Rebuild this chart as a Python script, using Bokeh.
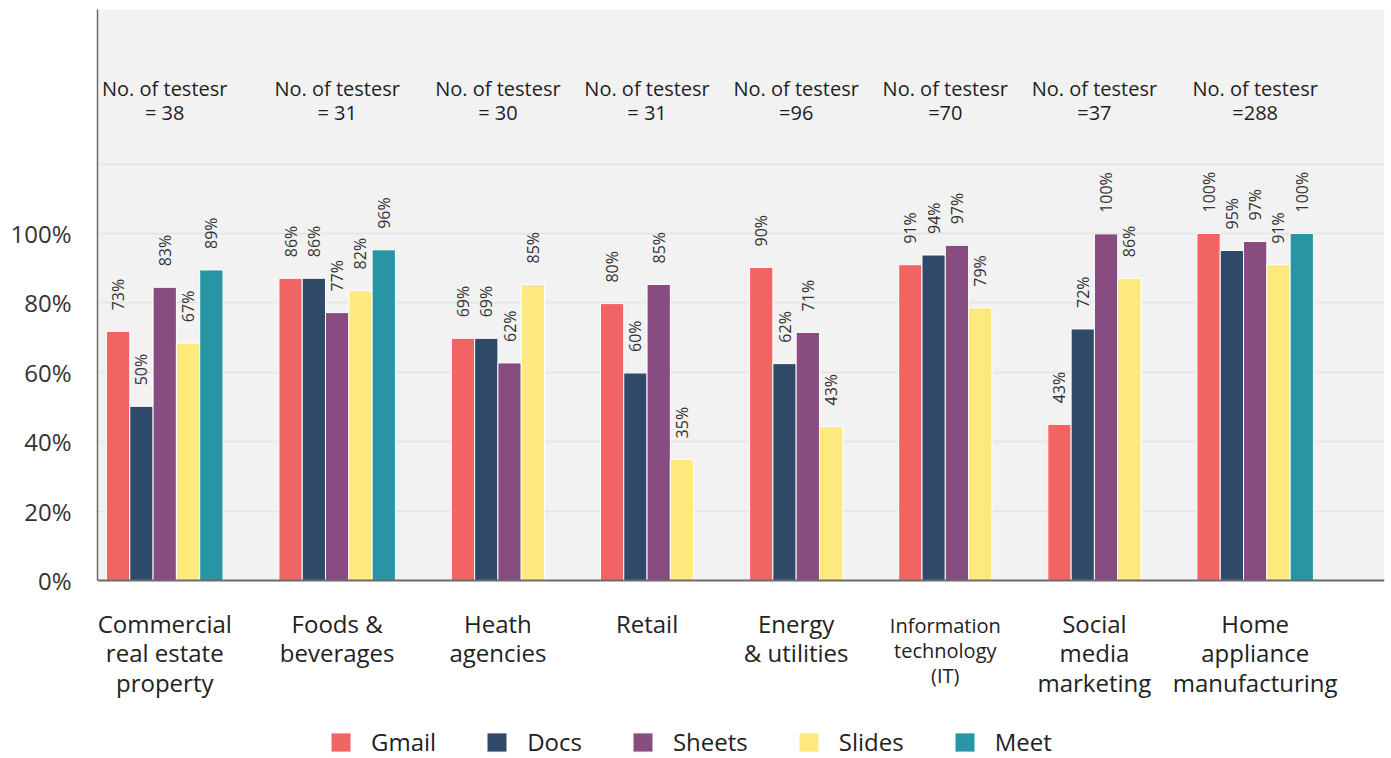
import numpy as np
from bokeh.plotting import figure
from bokeh.models import (ColumnDataSource, Range1d, FixedTicker, NumeralTickFormatter,
                          BoxAnnotation, Span, Legend, LegendItem)
from bokeh.core.properties import value
from bokeh.embed import file_html
from bokeh.resources import INLINE

# ---------------- data ----------------
categories = [
    "Commercial\nreal estate\nproperty",
    "Foods &\nbeverages",
    "Heath\nagencies",
    "Retail",
    "Energy\n& utilities",
    "Information\ntechnology\n(IT)",
    "Social\nmedia\nmarketing",
    "Home\nappliance\nmanufacturing",
]
tester_text = ["= 38", "= 31", "= 30", "= 31", "=96", "=70", "=37", "=288"]

series = ["Gmail", "Docs", "Sheets", "Slides", "Meet"]

# bar heights (%), as drawn
gmail = [71.8, 87.1, 69.8, 79.8, 90.2, 91.0, 45.0, 100.0]
docs = [50.2, 87.1, 69.8, 59.8, 62.5, 93.8, 72.5, 95.1]
sheets = [84.5, 77.2, 62.7, 85.3, 71.5, 96.6, 99.9, 97.7]
slides = [68.4, 83.6, 85.3, 34.9, 44.4, 78.6, 87.1, 91.0]
meet = [89.5, 95.3, None, None, None, None, None, 100.0]

# printed value labels (%)
gmail_lbl = [73, 86, 69, 80, 90, 91, 43, 100]
docs_lbl = [50, 86, 69, 60, 62, 94, 72, 95]
sheets_lbl = [83, 77, 62, 85, 71, 97, 100, 97]
slides_lbl = [67, 82, 85, 35, 43, 79, 86, 91]
meet_lbl = [89, 96, None, None, None, None, None, 100]

colors = ["#F26463", "#2F4A68", "#884C80", "#FEE97D", "#2795A4"]

# ---------------- layout ----------------
FONT = "Open Sans"
W, H = 1391, 758
LEFT, RIGHT, TOP = 97, 7, 9
GAP = 2.4            # gap between groups, in bar widths
PX_PER_BAR = 23.3
FRAME_W = W - LEFT - RIGHT
X0 = -0.386
X1 = X0 + FRAME_W / PX_PER_BAR
PX_PER_UNIT = 347.0
ZERO_PX = 571.0      # distance of 0% line below the frame top
Y1 = ZERO_PX / PX_PER_UNIT
Y0 = -(H - TOP - ZERO_PX) / PX_PER_UNIT

heights = dict(zip(series, [gmail, docs, sheets, slides, meet]))
labels = dict(zip(series, [gmail_lbl, docs_lbl, sheets_lbl, slides_lbl, meet_lbl]))

xs = {s: [] for s in series}
tops = {s: [] for s in series}
txt = {s: [] for s in series}
centers = []
pos = 0.0
for gi in range(len(categories)):
    start = pos
    for s in series:
        v = heights[s][gi]
        if v is None:
            continue
        xs[s].append(pos + 0.5)
        tops[s].append(v / 100.0)
        txt[s].append(f"{labels[s][gi]}%")
        pos += 1
    centers.append((start + pos) / 2)
    pos += GAP

p = figure(width=W, height=H,
           x_range=Range1d(X0, X1), y_range=Range1d(Y0, Y1),
           output_backend="svg", toolbar_location=None, x_axis_location=None,
           min_border_left=LEFT, min_border_right=RIGHT, min_border_top=TOP,
           min_border_bottom=0,
           background_fill_color="white", border_fill_color="white",
           outline_line_color=None)

# grey plotting panel
p.add_layout(BoxAnnotation(bottom=0, top=Y1, left=X0, right=X1,
                           fill_color="#F2F2F2", fill_alpha=1.0,
                           line_color=None, level="image"))

p.xgrid.visible = False
p.ygrid.ticker = FixedTicker(ticks=[0.2, 0.4, 0.6, 0.8, 1.0, 1.2])
p.ygrid.grid_line_color = "#E4E4E4"
p.ygrid.grid_line_width = 1.5

ax = p.yaxis[0]
ax.ticker = FixedTicker(ticks=[0, 0.2, 0.4, 0.6, 0.8, 1.0])
ax.formatter = NumeralTickFormatter(format="0%")
ax.bounds = (0, Y1)
ax.axis_line_color = "#6B6B6B"
ax.axis_line_width = 1.5
ax.major_tick_line_color = None
ax.minor_tick_line_color = None
ax.major_label_text_font = FONT
ax.major_label_text_font_size = "24px"
ax.major_label_text_color = "#333333"
ax.major_label_standoff = 20

legend_items = []
for s, c in zip(series, colors):
    src = ColumnDataSource(dict(x=xs[s], top=tops[s], label=txt[s]))
    r = p.vbar(x="x", top="top", bottom=0, width=1.0, source=src,
               fill_color=c, line_color="white", line_width=1)
    p.text(x="x", y="top", text="label", source=src, angle=np.pi / 2,
           text_align="left", text_baseline="middle", y_offset=-21,
           text_font=value(FONT), text_font_size="16px", text_color="#333333")
    legend_items.append(LegendItem(label=s, renderers=[r]))

p.add_layout(Span(location=0, dimension="width", line_color="#6B6B6B", line_width=2))

# "No. of testers" notes
p.text(x=centers, y=[1.383] * len(centers),
       text=[f"No. of testesr\n{t}" for t in tester_text],
       text_align="center", text_baseline="middle", text_line_height=0.88,
       text_font=value(FONT), text_font_size="20px", text_color="#1E1E1E")

# category labels
small = ["Information\ntechnology\n(IT)"]
big_i = [i for i, c in enumerate(categories) if c not in small]
small_i = [i for i, c in enumerate(categories) if c in small]
p.text(x=[centers[i] for i in big_i], y=[-0.0763] * len(big_i),
       text=[categories[i] for i in big_i],
       text_align="center", text_baseline="top", text_line_height=0.89,
       text_font=value(FONT), text_font_size="24px", text_color="#222222")
p.text(x=[centers[i] for i in small_i], y=[-0.0921] * len(small_i),
       text=[categories[i] for i in small_i],
       text_align="center", text_baseline="top", text_line_height=0.92,
       text_font=value(FONT), text_font_size="20px", text_color="#222222")

legend = Legend(items=legend_items, orientation="horizontal", location=(231, 0),
                glyph_width=25, glyph_height=24, label_standoff=18, spacing=48,
                padding=0, margin=0, border_line_color=None, background_fill_alpha=0,
                label_text_font=FONT, label_text_font_size="24px",
                label_text_color="#222222", label_height=24)
p.add_layout(legend)

open("out.html", "w").write(file_html(p, INLINE))
